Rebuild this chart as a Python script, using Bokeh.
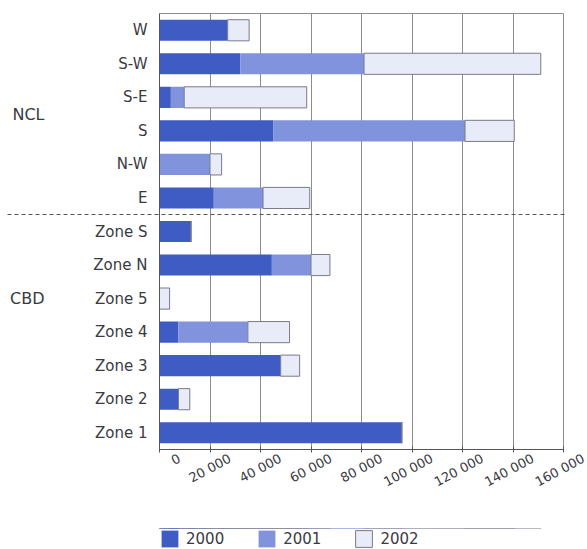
import math
from bokeh.plotting import figure
from bokeh.layouts import column
from bokeh.models import (Range1d, LinearAxis, Legend, LegendItem,
                          FixedTicker, ColumnDataSource)
from bokeh.embed import file_html
from bokeh.resources import INLINE

# ---------------- data ----------------
categories = ["W", "S-W", "S-E", "S", "N-W", "E",
              "Zone S", "Zone N", "Zone 5", "Zone 4", "Zone 3", "Zone 2", "Zone 1"]
groups = ["NCL"] * 6 + ["CBD"] * 7
years = ["2000", "2001", "2002"]
v2000 = [27000, 32000, 4500, 45000, 0, 21500, 12500, 44500, 0, 7500, 48000, 7500, 96000]
v2001 = [0, 49000, 5300, 76000, 20000, 19500, 0, 15500, 0, 27500, 0, 0, 0]
v2002 = [8500, 70000, 48500, 19500, 4600, 18500, 0, 7500, 4000, 16500, 7500, 4500, 0]
x_ticks = [0, 20000, 40000, 60000, 80000, 100000, 120000, 140000, 160000]
x_tick_labels = ["0", "20 000", "40 000", "60 000", "80 000", "100 000",
                 "120 000", "140 000", "160 000"]

# ---------------- styling ----------------
colors = ["#3f5cc4", "#8093dc", "#e8ebf8"]
outline = [None, None, "#7a7a88"]
FONT = "DejaVu Sans"
TXT = "#3a3a42"
BORDER = "#8c8c8c"
W, H = 587, 549
LEFT, TOP, BOTTOM = 159, 13, 55
PLOT_W, EXTRA_W, FRAME_H = 404, 22, 436     # 0..160 000 spans PLOT_W px; EXTRA_W px room for last label
FRAME_W = PLOT_W + EXTRA_W
LEG_H = 45
n = len(categories)
px_per_unit = (x_ticks[-1] - x_ticks[0]) / PLOT_W

# row positions (top row first), one unit per category
ypos = [n - 0.5 - i for i in range(n)]
source = ColumnDataSource(data=dict(y=ypos, cat=categories,
                                    **{"2000": v2000, "2001": v2001, "2002": v2002}))

x_range = Range1d(x_ticks[0], x_ticks[-1] + EXTRA_W * px_per_unit)
p = figure(frame_width=FRAME_W, frame_height=FRAME_H, output_backend="svg", toolbar_location=None,
           y_range=Range1d(0, n), x_range=x_range,
           min_border_left=LEFT, min_border_right=W - LEFT - FRAME_W,
           min_border_top=TOP, min_border_bottom=BOTTOM)
p.background_fill_color = "white"
p.border_fill_color = "white"
p.outline_line_color = None

renderers = p.hbar_stack(years, y="y", height=0.63, source=source,
                         color=colors, line_color=outline, line_width=1)

# vertical grid (the 160 000 line is the right border of the plot box)
p.ygrid.grid_line_color = None
p.xgrid.ticker = FixedTicker(ticks=x_ticks)
p.xgrid.grid_line_color = BORDER

# main x axis (below): line and ticks only -- configured before any other x axis is added
xa = p.below[0]
xa.ticker = FixedTicker(ticks=x_ticks)
xa.bounds = (x_ticks[0], x_ticks[-1])
xa.axis_line_color = "#555555"
xa.major_tick_line_color = "#555555"
xa.major_tick_in = 3
xa.major_tick_out = 3
xa.minor_tick_line_color = None
xa.major_label_overrides = {t: "" for t in x_ticks}
xa.major_label_standoff = 0
xa.major_label_text_font_size = "1px"
xa.major_label_text_color = None

# y axis (categories)
ya = p.left[0]
ya.ticker = FixedTicker(ticks=ypos)
ya.major_label_overrides = dict(zip(ypos, categories))
ya.axis_line_color = "#555555"
ya.major_tick_line_color = None
ya.minor_tick_line_color = None
ya.major_tick_out = 0
ya.major_tick_in = 0
ya.major_label_standoff = 12
ya.major_label_text_font = FONT
ya.major_label_text_font_size = "15px"
ya.major_label_text_color = TXT

# top border of the plot box
ta = LinearAxis(ticker=FixedTicker(ticks=[]), bounds=(x_ticks[0], x_ticks[-1]),
                axis_line_color=BORDER, major_tick_line_color=None, minor_tick_line_color=None,
                major_tick_out=0, major_tick_in=0, minor_tick_out=0, minor_tick_in=0,
                major_label_text_font_size="1px", major_label_text_color=None,
                major_label_standoff=0)
p.add_layout(ta, "above")

# group labels NCL / CBD on a second left axis
ncl_rows = [ypos[i] for i, g in enumerate(groups) if g == "NCL"]
ncl_y = (min(ncl_rows) + max(ncl_rows)) / 2
cbd_y = ypos[categories.index("Zone 5")]
sep_y = float(groups.count("CBD"))
ga = LinearAxis(ticker=FixedTicker(ticks=[ncl_y, cbd_y]),
                major_label_overrides={ncl_y: "NCL", cbd_y: "CBD"},
                axis_line_color=None, major_tick_line_color=None, minor_tick_line_color=None,
                major_tick_out=0, major_tick_in=0, major_label_standoff=46,
                major_label_text_font=FONT, major_label_text_font_size="16px",
                major_label_text_color=TXT)
p.add_layout(ga, "left")

# dashed separator between NCL and CBD (a long inward tick of an outer left axis)
SEP_AXIS_X, SEP_END_X = 11, 570
sa = LinearAxis(ticker=FixedTicker(ticks=[sep_y]),
                major_label_overrides={sep_y: ""}, axis_line_color=None,
                minor_tick_line_color=None, major_tick_line_color="#555555",
                major_tick_line_dash="4 3", major_tick_out=0,
                major_tick_in=SEP_END_X - SEP_AXIS_X, major_label_standoff=0,
                major_label_text_font_size="1px", major_label_text_color=None)
p.add_layout(sa, "left")

# label axis, shifted right so the rotated labels end past each tick as in the reference
shift = 20 * px_per_unit
p.extra_x_ranges = {"lbl": Range1d(x_range.start - shift, x_range.end - shift)}
la = LinearAxis(x_range_name="lbl", ticker=FixedTicker(ticks=x_ticks),
                major_label_overrides=dict(zip(x_ticks, x_tick_labels)),
                axis_line_color=None, major_tick_line_color=None, minor_tick_line_color=None,
                major_tick_out=0, major_tick_in=0,
                major_label_orientation=math.radians(28), major_label_standoff=5,
                major_label_text_font=FONT, major_label_text_font_size="13px",
                major_label_text_color=TXT)
p.add_layout(la, "below")

# legend strip under the chart
p2 = figure(width=W, height=LEG_H, x_range=x_range, y_range=Range1d(-1, 0),
            output_backend="svg", toolbar_location=None,
            x_axis_location=None, y_axis_location=None,
            min_border_left=157, min_border_right=0, min_border_top=LEG_H - 21, min_border_bottom=0)
p2.outline_line_color = None
p2.grid.visible = False
p2.background_fill_color = "white"
p2.border_fill_color = "white"
leg_r = p2.hbar_stack(years, y="y", height=0.63, source=source,
                      color=colors, line_color=outline, line_width=1)
legend = Legend(items=[LegendItem(label=y, renderers=[r]) for y, r in zip(years, leg_r)],
                orientation="horizontal", location="top_left",
                border_line_color=None, background_fill_alpha=0,
                glyph_width=21, glyph_height=21, label_standoff=6, spacing=32,
                padding=0, margin=0, label_text_font=FONT, label_text_font_size="15px",
                label_text_color=TXT)
p2.add_layout(legend)

open("out.html", "w").write(file_html(column(p, p2), INLINE))
